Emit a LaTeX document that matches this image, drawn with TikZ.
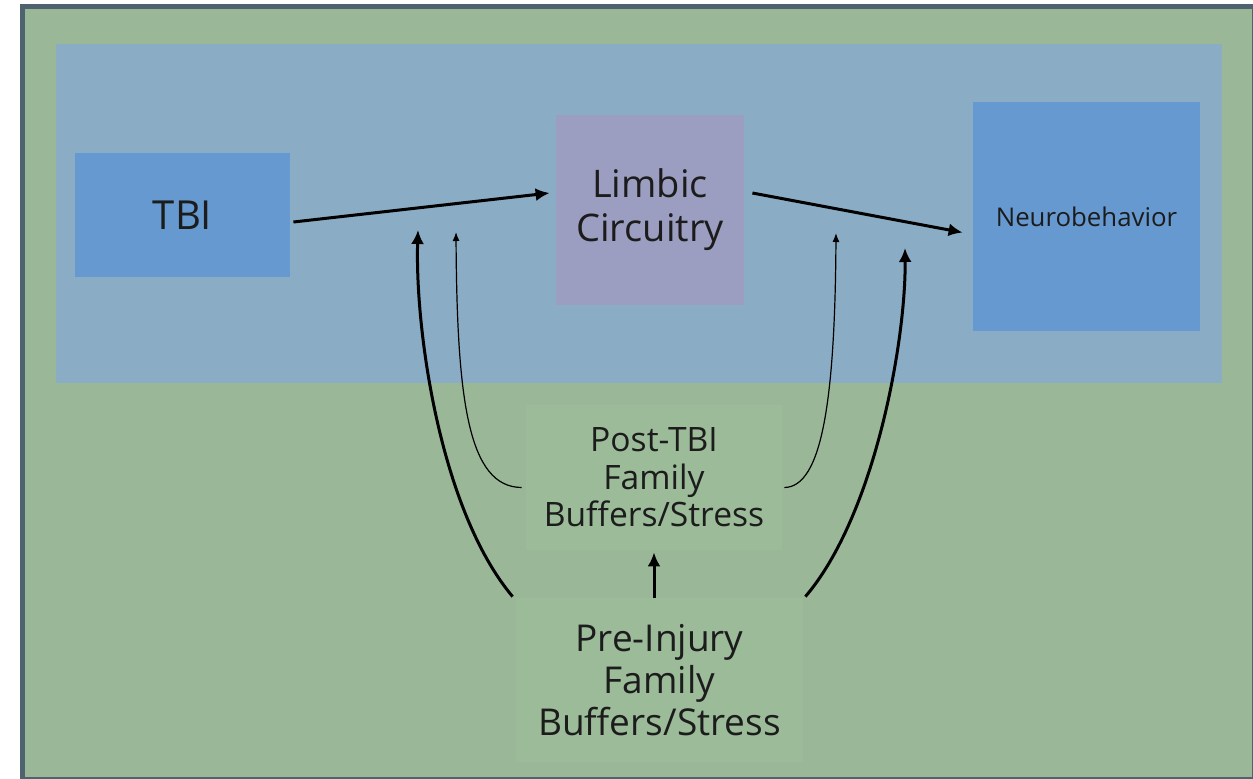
\documentclass[tikz,border=0pt]{standalone}
\usepackage{fontspec}
\setmainfont{Open Sans}
\usetikzlibrary{arrows.meta,calc}

\definecolor{FrameGrey}{HTML}{4F636F}
\definecolor{FieldGreen}{HTML}{9AB898}
\definecolor{BandBlue}{HTML}{8AACC4}
\definecolor{BoxBlue}{HTML}{6699D0}
\definecolor{BoxLilac}{HTML}{9B9EC0}
\definecolor{BoxGreen}{HTML}{9CBB99}
\definecolor{TextDark}{HTML}{1C1C1C}

\tikzstyle{Block}=[rectangle,inner sep=0pt,align=center,text=TextDark]
\tikzstyle{ThickArrow}=[black,line width=1.5pt,-{Latex[length=7pt,width=6.5pt]}]
\tikzstyle{ThinArrow}=[black,line width=0.6pt,-{Latex[length=4.5pt,width=3.5pt]}]

\begin{document}
\begin{tikzpicture}[x=0.5pt,y=-0.5pt]
		\useasboundingbox (0,0) rectangle (1253,778);
		\fill[white] (0,0) rectangle (1253,778);
		
		% Frame and background fields
		\draw[FrameGrey,fill=FieldGreen,line width=2.5pt] (22.5,6) rectangle (1254,779);
		\fill[BandBlue] (56,44) rectangle (1222,383);
		
		% Top row
		\draw(182.5,215) node[Block,fill=BoxBlue,minimum width=107.5pt,minimum height=62pt,
		  font=\fontsize{20}{24}\selectfont] (TBI) {TBI};
		\draw(650,210) node[Block,fill=BoxLilac,minimum width=94pt,minimum height=95pt,
		  font=\fontsize{19}{22}\selectfont] (Limbic) {Limbic\\Circuitry};
		\draw(1086.5,216.5) node[Block,fill=BoxBlue,minimum width=113.5pt,minimum height=114.5pt,
		  font=\fontsize{12.9}{15}\selectfont] (Neuro) {Neurobehavior};
		
		% Family boxes
		\draw(654,477.5) node[Block,fill=BoxGreen,minimum width=128pt,minimum height=72.5pt,
		  font=\fontsize{16.8}{18.8}\selectfont] (PostTBI) {Post-TBI\\Family\\Buffers/Stress};
		\draw(659.5,680) node[Block,fill=BoxGreen,minimum width=143.5pt,minimum height=82pt,
		  font=\fontsize{18.5}{21.2}\selectfont] (PreInjury) {Pre-Injury\\Family\\Buffers/Stress};
		
		% Free ends of the moderating arrows
		\coordinate (PreLeftIn) at (418,230);
		\coordinate (PostLeftIn) at (456,232);
		\coordinate (PostRightIn) at (836,233);
		\coordinate (PreRightIn) at (905,248);
		
		% Main path
		\draw[ThickArrow] ($(TBI.east)+(3,7)$) -- ($(Limbic.west)+(-6,-17)$);
		\draw[ThickArrow] ($(Limbic.east)+(8,-17)$) -- ($(Neuro.west)+(-10,16)$);
		
		% Pre-injury moderation
		\draw[ThickArrow] ($(PreInjury.north west)+(-3,-1)$) .. controls (440,510) and (415,330) .. (PreLeftIn);
		\draw[ThickArrow] ($(PreInjury.north east)+(2,-1)$) .. controls (875,515) and (906,340) .. (PreRightIn);
		\draw[ThickArrow] (PostTBI.south |- PreInjury.north) -- ($(PostTBI.south)+(0,2)$);
		
		% Post-TBI moderation
		\draw[ThinArrow] ($(PostTBI.west)+(-4,10)$) .. controls (468,487) and (457,400) .. (PostLeftIn);
		\draw[ThinArrow] ($(PostTBI.east)+(2,10)$) .. controls (822,487) and (835,400) .. (PostRightIn);
		
	\end{tikzpicture}
\end{document}
